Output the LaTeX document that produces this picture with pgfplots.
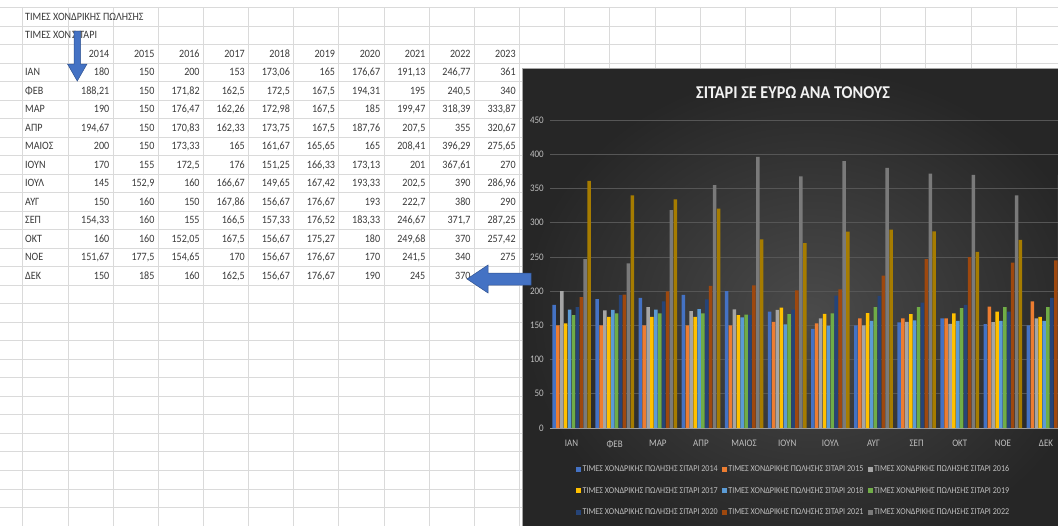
\documentclass[border=0pt]{standalone}
\usepackage{fontspec}
\setmainfont{Carlito}[FakeStretch=0.9]
\usepackage{pgfplots}
\usepackage{pgfplotstable}
\pgfplotsset{compat=1.18}

\definecolor{c2014}{HTML}{4472C4}
\definecolor{c2015}{HTML}{ED7D31}
\definecolor{c2016}{HTML}{A5A5A5}
\definecolor{c2017}{HTML}{FFC000}
\definecolor{c2018}{HTML}{5B9BD5}
\definecolor{c2019}{HTML}{70AD47}
\definecolor{c2020}{HTML}{264478}
\definecolor{c2021}{HTML}{9E480E}
\definecolor{c2022}{HTML}{7A7A7A}
\definecolor{c2023}{HTML}{A67C00}
\definecolor{sheetgrid}{HTML}{DADADA}
\definecolor{sheettext}{HTML}{3A3A3A}
\definecolor{arrowblue}{HTML}{4472C4}
\definecolor{arrowedge}{HTML}{2F528F}
\definecolor{panelin}{HTML}{4A4A4A}
\definecolor{panelout}{HTML}{262626}
\definecolor{chartgrid}{HTML}{565656}
\definecolor{charttext}{HTML}{BFBFBF}

\pgfplotstableread{
m y2014 y2015 y2016 y2017 y2018 y2019 y2020 y2021 y2022 y2023
0 180 150 200 153 173.06 165 176.67 191.13 246.77 361
1 188.21 150 171.82 162.5 172.5 167.5 194.31 195 240.5 340
2 190 150 176.47 162.26 172.98 167.5 185 199.47 318.39 333.87
3 194.67 150 170.83 162.33 173.75 167.5 187.76 207.5 355 320.67
4 200 150 173.33 165 161.67 165.65 165 208.41 396.29 275.65
5 170 155 172.5 176 151.25 166.33 173.13 201 367.61 270
6 145 152.9 160 166.67 149.65 167.42 193.33 202.5 390 286.96
7 150 160 150 167.86 156.67 176.67 193 222.7 380 290
8 154.33 160 155 166.5 157.33 176.52 183.33 246.67 371.7 287.25
9 160 160 152.05 167.5 156.67 175.27 180 249.68 370 257.42
10 151.67 177.5 154.65 170 156.67 176.67 170 241.5 340 275
11 150 185 160 162.5 156.67 176.67 190 245 370 nan
}\wheat

\def\nanstr{nan}

\begin{document}
\begin{tikzpicture}
\useasboundingbox (0,0) rectangle (1058bp,-526bp);
\clip (0,0) rectangle (1058bp,-526bp);
\begin{scope}[x=1bp,y=-1bp]
  \fill[white] (0,0) rectangle (1058,526);
  \foreach \k in {0,...,28} {
    \pgfmathsetmacro\yy{7.3+18.52*\k}
    \draw[sheetgrid, line width=0.6bp] (0,\yy) -- (1058,\yy);
  }
  \foreach \j in {0,...,23} {
    \pgfmathsetmacro\xx{22.7+45.15*\j}
    \draw[sheetgrid, line width=0.6bp] (\xx,7.3) -- (\xx,526);
  }
  \tikzset{cell/.style={inner sep=0pt, text height=7bp, text depth=0pt, text=sheettext, font=\fontsize{11.2bp}{13bp}\selectfont}}
  \node[cell, anchor=west] at (25,16.6) {ΤΙΜΕΣ ΧΟΝΔΡΙΚΗΣ ΠΩΛΗΣΗΣ};
  \node[cell, anchor=west] at (25,35.1) {ΤΙΜΕΣ ΧΟΝ};
  \node[cell, anchor=west] at (72,35.1) {ΣΙΤΑΡΙ};
  \foreach \m [count=\i from 3] in {ΙΑΝ,ΦΕΒ,ΜΑΡ,ΑΠΡ,ΜΑΙΟΣ,ΙΟΥΝ,ΙΟΥΛ,ΑΥΓ,ΣΕΠ,ΟΚΤ,ΝΟΕ,ΔΕΚ} {
    \pgfmathsetmacro\yy{16.6+18.52*\i}
    \node[cell, anchor=west] at (25,\yy) {\m};
  }
  \foreach \c [count=\ci from 1] in {2014,...,2023} {
    \pgfmathsetmacro\xx{22.7+45.15*(\ci+1)-3.5}
    \node[cell, anchor=east] at (\xx,53.64) {\c};
    \foreach \r in {0,...,11} {
      \pgfmathsetmacro\yy{16.6+18.52*(\r+3)}
      \pgfplotstablegetelem{\r}{y\c}\of\wheat
      \edef\v{\pgfplotsretval}
      \ifx\v\nanstr\else
        \node[cell, anchor=east] at (\xx,\yy) {\pgfmathprintnumber[fixed,precision=2,use comma,assume math mode=true]{\v}};
      \fi
    }
  }
  \filldraw[fill=arrowblue, draw=arrowedge, line width=0.5bp]
    (74,31) -- (80.5,31) -- (80.5,64) -- (87,64) -- (77.25,81) -- (67.5,64) -- (74,64) -- cycle;
  \shade[inner color=panelin, outer color=panelout] (522,68) rectangle (1100,560);
  \draw[gray!70, line width=0.6bp] (522,560) -- (522,68) -- (1100,68);
  \node[font=\bfseries\fontsize{18bp}{21bp}\selectfont, text=gray!10] at (793,93) {ΣΙΤΑΡΙ ΣΕ ΕΥΡΩ ΑΝΑ ΤΟΝΟΥΣ};
\end{scope}
\begin{axis}[
  at={(550bp,-428bp)}, anchor=south west,
  scale only axis, width=517.6bp, height=308bp,
  xmin=-0.5, xmax=11.5, ymin=0, ymax=450,
  ybar=0.4bp, bar width=3.5bp,
  xtick={0,...,11},
  xticklabels={ΙΑΝ,ΦΕΒ,ΜΑΡ,ΑΠΡ,ΜΑΙΟΣ,ΙΟΥΝ,ΙΟΥΛ,ΑΥΓ,ΣΕΠ,ΟΚΤ,ΝΟΕ,ΔΕΚ},
  ytick={0,50,...,450},
  /pgf/number format/assume math mode=true,
  major tick length=0pt,
  axis x line*=bottom, axis y line*=left,
  x axis line style={draw=gray!75, line width=0.8bp},
  y axis line style={draw=none},
  ymajorgrids, grid style={draw=chartgrid, line width=0.6bp},
  tick label style={font=\fontsize{10bp}{12bp}\selectfont, text=charttext},
  yticklabel style={inner sep=0pt, anchor=east, xshift=-6bp},
  xticklabel style={inner sep=0pt, anchor=north, yshift=-12bp},
  legend columns=3,
  legend style={draw=none, fill=none, at={(0.05,-0.118)}, anchor=north west,
     font=\fontsize{9bp}{11bp}\selectfont, text=charttext,
     /tikz/every odd column/.append style={column sep=0.5bp},
     /tikz/every even column/.append style={column sep=3bp},
     row sep=12bp, inner sep=0pt, nodes={inner sep=1bp}},
  legend image code/.code={\fill[#1] (0bp,-2.5bp) rectangle (5bp,2.5bp);},
  clip=false,
]
\addplot[fill=c2014, draw=none] table[x=m, y=y2014] {\wheat};
\addlegendentry{ΤΙΜΕΣ ΧΟΝΔΡΙΚΗΣ ΠΩΛΗΣΗΣ ΣΙΤΑΡΙ 2014}
\addplot[fill=c2015, draw=none] table[x=m, y=y2015] {\wheat};
\addlegendentry{ΤΙΜΕΣ ΧΟΝΔΡΙΚΗΣ ΠΩΛΗΣΗΣ ΣΙΤΑΡΙ 2015}
\addplot[fill=c2016, draw=none] table[x=m, y=y2016] {\wheat};
\addlegendentry{ΤΙΜΕΣ ΧΟΝΔΡΙΚΗΣ ΠΩΛΗΣΗΣ ΣΙΤΑΡΙ 2016}
\addplot[fill=c2017, draw=none] table[x=m, y=y2017] {\wheat};
\addlegendentry{ΤΙΜΕΣ ΧΟΝΔΡΙΚΗΣ ΠΩΛΗΣΗΣ ΣΙΤΑΡΙ 2017}
\addplot[fill=c2018, draw=none] table[x=m, y=y2018] {\wheat};
\addlegendentry{ΤΙΜΕΣ ΧΟΝΔΡΙΚΗΣ ΠΩΛΗΣΗΣ ΣΙΤΑΡΙ 2018}
\addplot[fill=c2019, draw=none] table[x=m, y=y2019] {\wheat};
\addlegendentry{ΤΙΜΕΣ ΧΟΝΔΡΙΚΗΣ ΠΩΛΗΣΗΣ ΣΙΤΑΡΙ 2019}
\addplot[fill=c2020, draw=none] table[x=m, y=y2020] {\wheat};
\addlegendentry{ΤΙΜΕΣ ΧΟΝΔΡΙΚΗΣ ΠΩΛΗΣΗΣ ΣΙΤΑΡΙ 2020}
\addplot[fill=c2021, draw=none] table[x=m, y=y2021] {\wheat};
\addlegendentry{ΤΙΜΕΣ ΧΟΝΔΡΙΚΗΣ ΠΩΛΗΣΗΣ ΣΙΤΑΡΙ 2021}
\addplot[fill=c2022, draw=none] table[x=m, y=y2022] {\wheat};
\addlegendentry{ΤΙΜΕΣ ΧΟΝΔΡΙΚΗΣ ΠΩΛΗΣΗΣ ΣΙΤΑΡΙ 2022}
\addplot[fill=c2023, draw=none] table[x=m, y=y2023] {\wheat};
\end{axis}
\begin{scope}[x=1bp,y=-1bp]
  \filldraw[fill=arrowblue, draw=arrowedge, line width=0.5bp]
    (531,273) -- (488,273) -- (488,265) -- (467,279) -- (488,293) -- (488,285) -- (531,285) -- cycle;
\end{scope}
\end{tikzpicture}
\end{document}
